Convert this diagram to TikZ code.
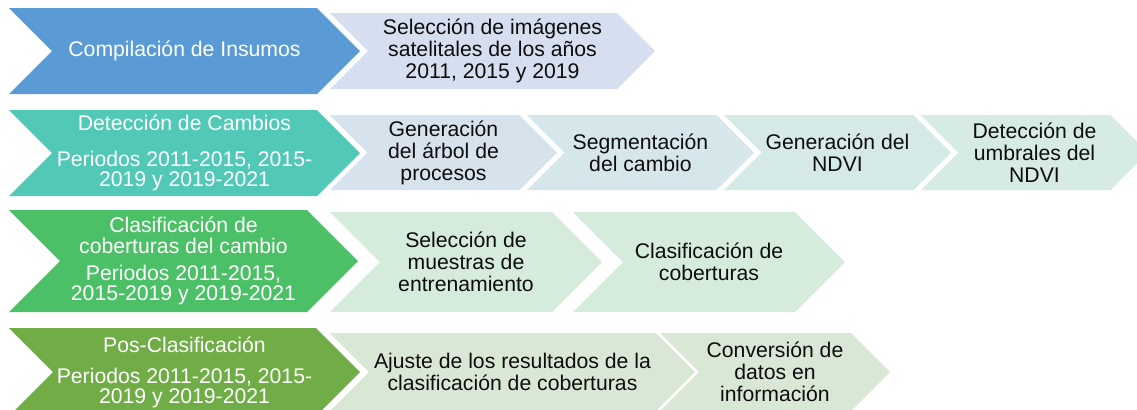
\documentclass[tikz,border=0pt]{standalone}
\usepackage{fontspec}
\setmainfont{Liberation Sans}
\usetikzlibrary{shapes.symbols}

\definecolor{insumos}{HTML}{5B9BD5}
\definecolor{cambios}{HTML}{52C9B6}
\definecolor{clasif}{HTML}{4BC066}
\definecolor{posclasif}{HTML}{70AD47}
\definecolor{subA}{HTML}{D5DFEF}
\definecolor{subBa}{HTML}{D6E3EC}
\definecolor{subBb}{HTML}{D6E7EB}
\definecolor{subBc}{HTML}{D5EAE6}
\definecolor{subBd}{HTML}{D5EBE3}
\definecolor{subC}{HTML}{D5EBDC}
\definecolor{subD}{HTML}{D9E8D4}

\begin{document}
\begin{tikzpicture}[x=0.5pt,y=-0.5pt, font=\fontsize{10.6}{11}\selectfont,
    chev/.style={signal, signal to=east, signal from=west, signal pointer angle=90,
      inner sep=0pt, align=center},
    main/.style={chev, text=white, minimum width=175.5pt},
    sub/.style={chev, text=black!95}]
    \useasboundingbox (0,0) rectangle (1137,409);

    % Compilacion de insumos
    \node[sub, fill=subA, minimum width=162.5pt, minimum height=38pt] (seleccion) at (492.5,51)
        {Selección de imágenes\\satelitales de los años\\2011, 2015 y 2019};
    \node[main, fill=insumos, minimum height=43pt] (insumos) at (184.5,51) {Compilación de Insumos};

    % Deteccion de cambios
    \node[sub, fill=subBa, minimum width=113.5pt, minimum height=37.5pt] (arbol) at (443.5,152.5)
        {Generación\\del árbol de\\procesos};
    \node[sub, fill=subBb, minimum width=113.5pt, minimum height=37.5pt] (segmentacion) at (640.5,152.5)
        {Segmentación\\del cambio};
    \node[sub, fill=subBc, minimum width=113.5pt, minimum height=37.5pt] (ndvi) at (837.5,152.5)
        {Generación del\\NDVI};
    \node[sub, fill=subBd, minimum width=113.5pt, minimum height=37.5pt] (umbrales) at (1034.5,152.5)
        {Detección de\\umbrales del\\NDVI};
    \node[main, fill=cambios, minimum height=43pt] (cambios) at (184.5,153)
        {Detección de Cambios\\[7pt]Periodos 2011-2015, 2015-\\[-1pt]2019 y 2019-2021};

    % Clasificacion de coberturas
    \node[sub, fill=subC, minimum width=136pt, minimum height=50pt] (muestras) at (466,262)
        {Selección de\\muestras de\\entrenamiento};
    \node[sub, fill=subC, minimum width=136pt, minimum height=50pt] (coberturas) at (709,262)
        {Clasificación de\\coberturas};
    \node[main, fill=clasif, minimum width=174.5pt, minimum height=51pt] (clasif) at (183.5,261)
        {Clasificación de\\[-0.5pt]coberturas del cambio\\[2.5pt]Periodos 2011-2015,\\[-1pt]2015-2019 y 2019-2021};

    % Pos-clasificacion
    \node[sub, fill=subD, minimum width=182.5pt, minimum height=39pt] (ajuste) at (512.5,372)
        {Ajuste de los resultados de la\\clasificación de coberturas};
    \node[sub, fill=subD, minimum width=115pt, minimum height=39pt] (conversion) at (775,372)
        {Conversión de\\datos en\\información};
    \node[main, fill=posclasif, minimum height=44pt] (posclasif) at (184.5,372)
        {Pos-Clasificación\\[4.5pt]Periodos 2011-2015, 2015-\\[-1pt]2019 y 2019-2021};
\end{tikzpicture}
\end{document}
